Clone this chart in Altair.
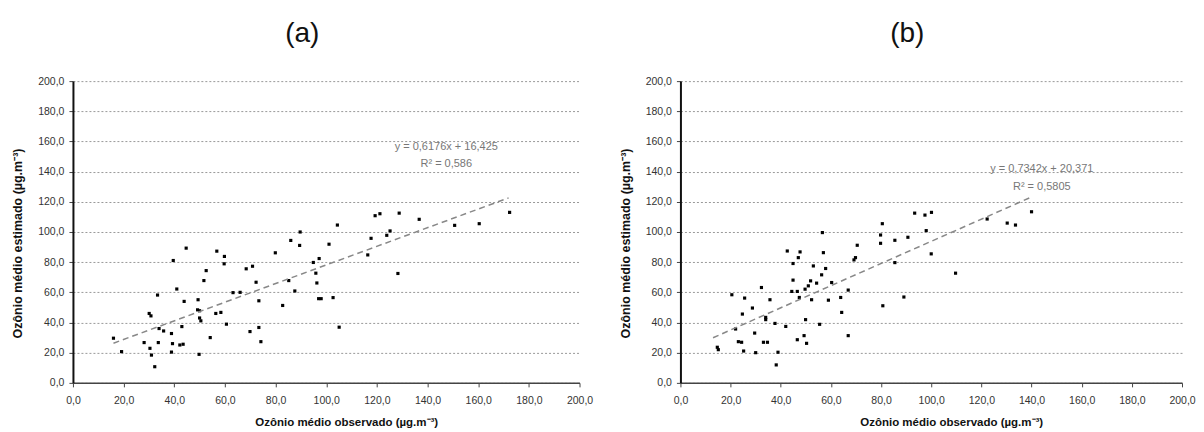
import altair as alt
import pandas as pd

# Panel (a) observed / estimated values
a_x = [16.0, 19.2, 28.1, 30.1, 30.8, 30.4, 31.0, 32.3, 33.4, 33.7, 34.0, 35.8, 38.9, 38.9, 39.3,
       39.6, 41.0, 42.2, 43.5, 43.0, 43.9, 44.7, 49.4, 49.2, 50.0, 50.0, 50.5, 49.8, 51.7, 52.6,
       54.2, 56.4, 58.4, 56.8, 59.8, 59.7, 60.6, 63.2, 66.0, 68.4, 70.9, 72.3, 73.4, 69.9, 73.4,
       74.2, 79.9, 82.8, 85.2, 86.0, 87.6, 89.5, 89.7, 94.9, 97.2, 95.9, 96.3, 97.0, 98.0, 101.1,
       102.7, 104.4, 105.1, 116.4, 117.7, 119.3, 121.2, 123.9, 125.2, 128.3, 128.8, 136.7, 150.7, 160.4, 172.4]
a_y = [29.6, 20.7, 26.7, 46.0, 44.4, 22.9, 18.4, 10.7, 58.2, 26.7, 36.0, 34.4, 32.7, 20.4, 26.0,
       81.1, 62.2, 25.1, 25.6, 37.3, 54.0, 89.3, 55.1, 48.4, 47.8, 43.0, 41.1, 18.9, 67.8, 74.4,
       30.0, 46.0, 46.7, 87.3, 83.8, 78.9, 38.9, 59.8, 60.0, 75.6, 77.3, 66.7, 54.4, 34.0, 36.7,
       27.3, 86.2, 51.3, 67.8, 94.4, 60.9, 91.1, 100.0, 79.8, 82.4, 72.7, 66.2, 55.8, 55.8, 91.9,
       56.5, 104.6, 36.9, 84.8, 95.8, 110.8, 112.1, 97.8, 100.7, 72.5, 112.5, 108.4, 104.4, 105.5, 113.0]

# Panel (b) observed / estimated values
b_x = [14.7, 15.1, 20.5, 22.0, 23.1, 24.4, 24.7, 25.2, 25.6, 28.7, 29.6, 30.0, 32.3, 33.1, 34.7,
       34.0, 34.0, 35.7, 37.7, 38.2, 38.9, 42.0, 42.6, 44.9, 44.9, 44.4, 46.6, 47.0, 47.7, 46.6,
       49.3, 50.3, 49.9, 47.4, 49.7, 51.0, 51.9, 52.3, 53.0, 54.3, 55.5, 56.3, 57.0, 57.9, 56.6,
       59.0, 60.3, 63.9, 64.3, 66.9, 66.9, 69.2, 69.8, 70.5, 80.5, 79.8, 79.8, 80.7, 85.5, 85.5,
       89.1, 90.7, 93.4, 97.5, 100.1, 98.0, 100.0, 109.7, 122.3, 130.3, 133.6, 140.0]
b_y = [23.6, 22.0, 58.4, 35.7, 27.3, 26.9, 45.6, 21.1, 56.2, 49.6, 33.0, 20.0, 63.2, 26.9, 26.9,
       43.4, 41.9, 55.1, 39.4, 11.9, 20.3, 37.4, 87.4, 79.1, 68.1, 60.6, 60.6, 83.0, 86.8, 28.6,
       31.3, 26.2, 41.9, 56.6, 62.1, 64.3, 67.6, 55.1, 77.5, 66.1, 38.8, 71.6, 86.3, 75.8, 99.6,
       54.8, 66.5, 56.6, 46.7, 61.5, 31.3, 81.5, 83.0, 91.2, 105.5, 98.0, 92.5, 51.1, 94.5, 79.7,
       56.9, 96.5, 112.5, 111.2, 113.0, 100.9, 85.5, 72.7, 108.6, 105.9, 104.6, 113.4]

# Trend line end points
a_trend_x = [16.0, 172.0]
a_trend_y = [26.3, 122.6]
b_trend_x = [13.0, 139.6]
b_trend_y = [29.9, 122.9]

# Equation annotations
a_eq_text = ["y = 0,6176x + 16,425", "R² = 0,586"]
a_eq_x = [147.4, 147.4]
a_eq_y = [156.1, 144.8]
b_eq_text = ["y = 0,7342x + 20,371", "R² = 0,5805"]
b_eq_x = [144.1, 144.1]
b_eq_y = [142.0, 130.0]

ticks = [0, 20, 40, 60, 80, 100, 120, 140, 160, 180, 200]
FONT = "Liberation Sans"
LBL = "replace(format(datum.value, '.1f'), '.', ',')"


def panel(title, px, py, tx, ty, et, ex, ey, width):
    pts = pd.DataFrame({"obs": px, "est": py})
    trend = pd.DataFrame({"obs": tx, "est": ty})
    eq = pd.DataFrame({"obs": ex, "est": ey, "t": et})

    xs = alt.Scale(domain=[0, 200], nice=False, zero=True)
    ys = alt.Scale(domain=[0, 200], nice=False, zero=True)

    xaxis = alt.Axis(values=ticks, labelExpr=LBL, grid=False, labelFlush=False,
                     labelOverlap=False, domainColor="#444", domainWidth=1.5,
                     tickColor="#444", tickSize=4, tickWidth=1, labelFontSize=10.5,
                     labelFont=FONT, labelColor="#333", labelPadding=9,
                     title="Ozônio médio observado  (µg.m⁻³)", titleFont=FONT,
                     titleFontSize=11.5, titleFontWeight="bold", titleColor="#111",
                     titlePadding=10, titleX=width / 2 + 20)
    yaxis = alt.Axis(values=ticks, labelExpr=LBL, grid=True, gridDash=[2, 2],
                     labelOverlap=False, tickCount=11,
                     gridColor="#999", gridWidth=1, domainColor="#111", domainWidth=2,
                     tickColor="#444", tickSize=4, labelFontSize=10.5, labelFont=FONT,
                     labelColor="#333", labelPadding=5, minExtent=44, maxExtent=44,
                     title="Ozônio médio estimado (µg.m⁻³)", titleFont=FONT,
                     titleFontSize=12.5, titleFontWeight="bold", titleColor="#111",
                     titlePadding=4, titleY=162)

    X = alt.X("obs:Q", scale=xs, axis=xaxis)
    Y = alt.Y("est:Q", scale=ys, axis=yaxis)

    base_pts = alt.Chart(pts).mark_square(size=10, color="black", opacity=1).encode(x=X, y=Y)
    line = alt.Chart(trend).mark_line(color="#888", strokeDash=[6, 4], strokeWidth=1.5).encode(
        x=X, y=Y
    )
    txt = alt.Chart(eq).mark_text(font=FONT, fontSize=11, color="#777", align="center",
                                  baseline="middle").encode(
        x=X, y=Y, text="t:N"
    )
    return alt.layer(base_pts, line, txt).properties(
        width=width, height=302,
        title=alt.TitleParams(title, font=FONT, fontSize=28, fontWeight="normal",
                              anchor="middle", frame="bounds", color="#111", offset=28),
    )


pa = panel("(a)", a_x, a_y, a_trend_x, a_trend_y, a_eq_text, a_eq_x, a_eq_y, 507)
pb = panel("(b)", b_x, b_y, b_trend_x, b_trend_y, b_eq_text, b_eq_x, b_eq_y, 502)

chart = alt.hconcat(pa, pb, spacing=26).properties(
    padding={"top": 12, "left": 4, "right": 0, "bottom": 0}
).configure_view(stroke=None)

chart.save("out.html", embed_options={"renderer": "svg", "actions": False})
